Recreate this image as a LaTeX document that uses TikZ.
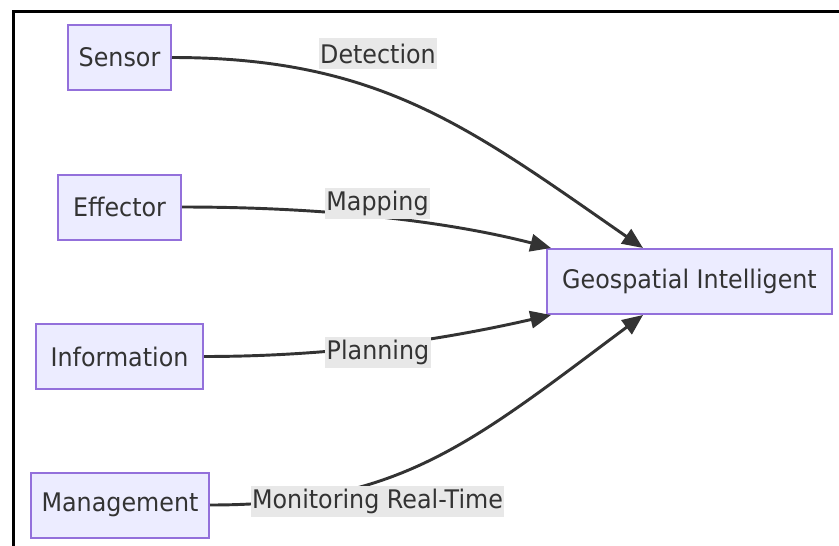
\documentclass[tikz,border=0pt]{standalone}
\usepackage{fontspec}
\setmainfont{DejaVu Sans}[FakeStretch=0.93]
\usetikzlibrary{arrows.meta}
\definecolor{boxfill}{HTML}{ECECFF}
\definecolor{boxline}{HTML}{9370DB}
\definecolor{ink}{HTML}{333333}
\definecolor{labelbg}{HTML}{E8E8E8}
\tikzset{
  unit/.style={x=0.75pt,y=-0.75pt},
  entity/.style={draw=boxline,fill=boxfill,line width=1.5pt,text=ink,
    inner sep=0pt,minimum height=48.75pt,
    font=\fontsize{19.2pt}{23pt}\selectfont},
  flow/.style={draw=ink,line width=2.2pt,
    -{Triangle[length=15.5pt,width=13pt]}},
  flowlabel/.style={fill=labelbg,text=ink,inner xsep=1pt,inner ysep=0pt,
    minimum height=23.25pt,font=\fontsize{19.2pt}{23pt}\selectfont}
}
\begin{document}
\begin{tikzpicture}[unit]
\useasboundingbox (0,0) rectangle (839,546);
% frame
\draw[line width=2.25pt] (13,546) -- (13,11) -- (839,11);

% source entities
\node[entity,minimum width=77.25pt]  (sensor) at (119.5,57.5)  {Sensor};
\node[entity,minimum width=92.25pt]  (effector) at (119.5,207) {Effector};
\node[entity,minimum width=125.25pt] (info) at (119.5,356.5)   {Information};
\node[entity,minimum width=133.5pt]  (mgmt) at (120,505)       {Management};
% target
\node[entity,minimum width=213.75pt] (geo) at (689.5,281.5) {Geospatial Intelligent};

% connectors
\draw[flow] (sensor.east) .. controls (380,57.5) and (470,128)
  .. ([xshift=-34.875pt]geo.north);
\draw[flow] (effector.east) .. controls (330,207) and (450,222)
  .. ([xshift=3.75pt]geo.north west);
\draw[flow] (info.east) .. controls (340,356.5) and (450,338)
  .. ([xshift=3.75pt]geo.south west);
\draw[flow] (mgmt.east) .. controls (400,505) and (470,444)
  .. ([xshift=-34.875pt]geo.south);

% connector labels
\node[flowlabel] (lbl1) at (378,53.5)  {Detection};
\node[flowlabel] (lbl2) at (377.5,203) {Mapping};
\node[flowlabel] (lbl3) at (378,352)   {Planning};
\node[flowlabel] (lbl4) at (377.5,501) {Monitoring Real-Time};
\end{tikzpicture}
\end{document}
